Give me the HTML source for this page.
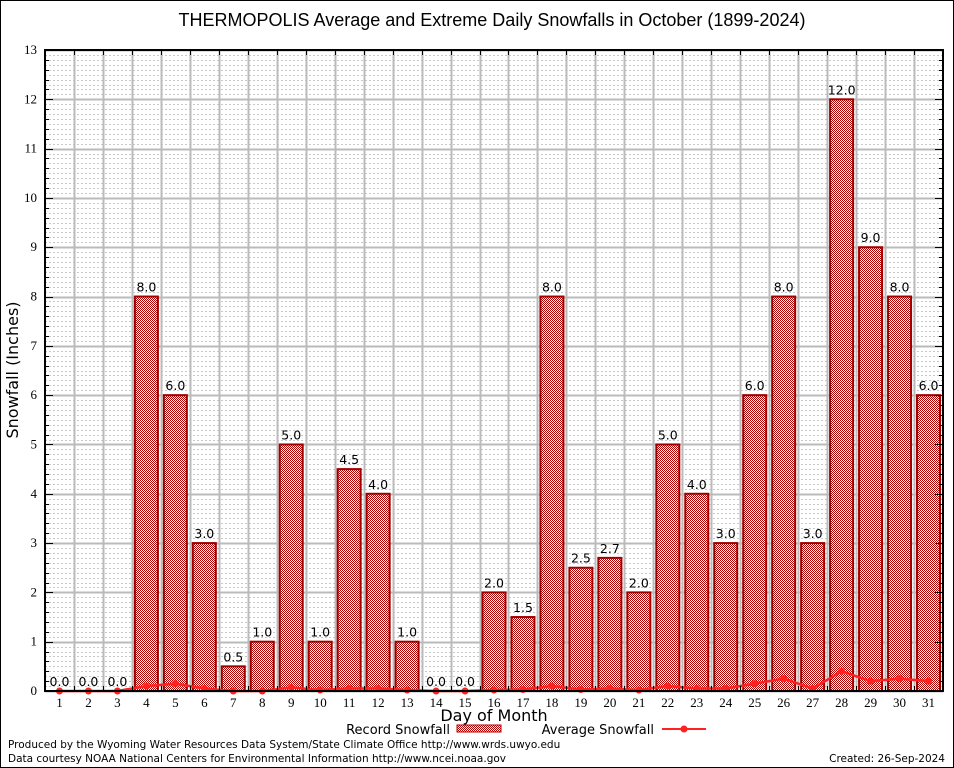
<!DOCTYPE html>
<html><head><meta charset="utf-8"><style>
body{margin:0;background:#fff;width:954px;height:768px;overflow:hidden}
svg{display:block;font-family:"DejaVu Sans","Liberation Sans",sans-serif}
.tk{font-family:"Liberation Serif","DejaVu Serif",serif;font-size:13px}
</style></head><body>
<svg id="c" width="954" height="768" xmlns="http://www.w3.org/2000/svg">
<defs>
<pattern id="hatch" width="2" height="2" patternUnits="userSpaceOnUse">
<rect width="2" height="2" fill="#fff"/><rect width="1" height="1" fill="#b00000"/><rect x="1" y="1" width="1" height="1" fill="#b00000"/>
</pattern>
</defs>
<rect x="0.5" y="0.5" width="953" height="767" fill="#fff" stroke="#000"/>
<text x="492" y="26" text-anchor="middle" font-size="18" font-family="Liberation Sans, sans-serif">THERMOPOLIS Average and Extreme Daily Snowfalls in October (1899-2024)</text>
<g id="grid"></g>
<g id="bars"></g>
<g id="avg"></g>
<g id="axes"></g>
<text x="18" y="370" font-size="16" text-anchor="middle" transform="rotate(-90 18 370)">Snowfall (Inches)</text>
<text x="494" y="721" font-size="16" text-anchor="middle">Day of Month</text>
<g>
<text x="450" y="734" font-size="13" text-anchor="end">Record Snowfall</text>
<rect x="457" y="725" width="44" height="7" fill="url(#hatch)" stroke="#b00000"/>
</g>
<g>
<text x="654" y="734" font-size="13" text-anchor="end">Average Snowfall</text>
<line x1="662" y1="729" x2="706" y2="729" stroke="#ff2020" stroke-width="2"/>
<circle cx="684" cy="729" r="3.5" fill="#ff2020"/>
</g>
<text x="8" y="748" font-size="10.5">Produced by the Wyoming Water Resources Data System/State Climate Office http://www.wrds.uwyo.edu</text>
<text x="8" y="762" font-size="10.5">Data courtesy NOAA National Centers for Environmental Information http://www.ncei.noaa.gov</text>
<text x="945" y="762" font-size="10.5" text-anchor="end">Created: 26-Sep-2024</text>
</svg>
<script>
const days=[1,2,3,4,5,6,7,8,9,10,11,12,13,14,15,16,17,18,19,20,21,22,23,24,25,26,27,28,29,30,31];
const recordValues=[0,0,0,8,6,3,0.5,1,5,1,4.5,4,1,0,0,2,1.5,8,2.5,2.7,2,5,4,3,6,8,3,12,9,8,6];
const avgValues=[0,0,0,0.1,0.15,0.05,0,0,0.07,0.02,0.05,0.05,0.02,0,0,0.02,0.03,0.1,0.03,0.05,0.02,0.1,0.05,0.05,0.15,0.25,0.05,0.4,0.2,0.25,0.2];
const yTicks=[0,1,2,3,4,5,6,7,8,9,10,11,12,13];
const L=45,R=943,T=50,B=691,yMax=13;
const n=days.length, step=(R-L)/n;
const x=d=>L+step*(d-0.5);
const y=v=>B-(B-T)*v/yMax;
const NS='http://www.w3.org/2000/svg';
function mk(tag,attrs,parent){const e=document.createElementNS(NS,tag);for(const k in attrs)e.setAttribute(k,attrs[k]);parent.appendChild(e);return e;}
const grid=document.getElementById('grid'),bars=document.getElementById('bars'),avg=document.getElementById('avg'),axes=document.getElementById('axes');
for(let v=0;v<yMax*10;v++){if(v%10===0)continue;const yy=Math.round(y(v/10))+0.5;mk('line',{x1:L,x2:R,y1:yy,y2:yy,stroke:'#c8c8c8','stroke-dasharray':'2,2','stroke-width':1},grid);}
yTicks.forEach(t=>{const yy=Math.round(y(t))+0.5;const g=mk('line',{x1:L,x2:R,y1:yy,y2:yy,stroke:'#bbb','stroke-width':2},grid);


const tx=mk('text',{x:L-8,y:y(t)+4,'text-anchor':'end',class:'tk'},axes);tx.textContent=t;

});
for(let i=1;i<n;i++){const xx=Math.round(L+step*i)+0.5;mk('line',{x1:xx,x2:xx,y1:T,y2:B,stroke:'#bbb','stroke-width':2},grid);mk('line',{x1:xx,x2:xx,y1:B,y2:B-5,stroke:'#000'},axes);mk('line',{x1:xx,x2:xx,y1:T,y2:T+5,stroke:'#000'},axes);}
for(let v=1;v<yMax*5;v++){const yy=Math.round(y(v/5))+0.5;const w=v%5===0?8:4;mk('line',{x1:L,x2:L+w,y1:yy,y2:yy,stroke:'#000'},axes);mk('line',{x1:R-w,x2:R,y1:yy,y2:yy,stroke:'#000'},axes);}
days.forEach((d,i)=>{const v=recordValues[i];const cx=x(d);
if(v>0){const r=mk('rect',{x:cx-11.5,y:y(v),width:23,height:B-y(v),fill:'url(#hatch)',stroke:'#a00000','stroke-width':2},bars);

}
const lb=mk('text',{x:cx,y:y(v)-5,'text-anchor':'middle','font-size':12.5},bars);lb.textContent=v.toFixed(1);


const tl=mk('text',{x:cx,y:B+16,'text-anchor':'middle',class:'tk'},axes);tl.textContent=d;

});
const pl=mk('polyline',{points:days.map((d,i)=>x(d)+','+y(avgValues[i])).join(' '),fill:'none',stroke:'#ff2020','stroke-width':2.5},avg);


days.forEach((d,i)=>{const c=mk('circle',{cx:x(d),cy:y(avgValues[i]),r:3.5,fill:'#ff2020'},avg);

});
const fr=mk('rect',{x:L,y:T,width:R-L,height:B-T,fill:'none',stroke:'#000','stroke-width':2},axes);


</script>
</body></html>
